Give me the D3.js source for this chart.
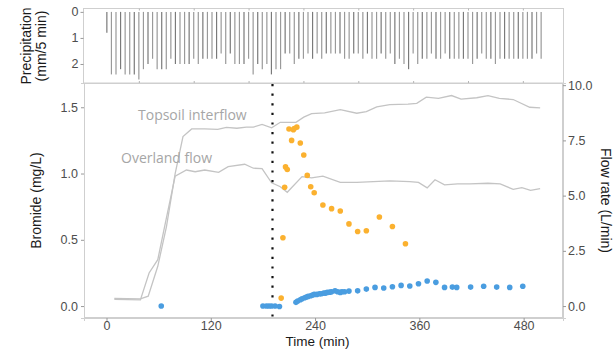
<!DOCTYPE html>
<html>
<head>
<meta charset="utf-8">
<script src="https://cdn.jsdelivr.net/npm/d3@7"></script>
<style>
  body { margin: 0; background: #fff; }
  svg { display: block; }
</style>
</head>
<body>
<div class="chart"></div>
<script>
// rain: one bar per 5 min, starting at 25 min
const rainStart = 25;
const rainStep = 5;
const rainMm = [
  0.8, 2.4, 2.4, 2.2, 2.4, 2.4, 2.4, 2.6, 2.2, 2.0,
  1.8, 2.2, 2.2, 2.2, 1.8, 2.0, 2.0, 2.0, 2.0, 1.8,
  2.0, 1.8, 1.8, 1.8, 1.8, 1.6, 2.0, 1.6, 2.0, 2.0,
  2.0, 1.8, 2.4, 2.0, 2.2, 2.0, 2.4, 2.2, 2.2, 1.6,
  1.6, 2.0, 1.8, 1.8, 1.6, 1.8, 1.6, 1.8, 1.6,
  1.6, 1.6, 1.6, 1.8, 1.8, 1.6, 1.6, 1.8, 1.6, 1.8,
  1.8, 1.6, 1.8, 1.6, 2.0, 1.8, 2.0, 2.2, 1.6, 2.0,
  1.8, 1.8, 1.6, 1.8, 1.8, 1.6, 1.8, 1.8, 1.8, 1.8,
  1.8, 2.0, 1.8, 1.6, 1.8, 1.8, 2.0, 1.8, 1.8, 1.8,
  1.8, 1.8, 1.8, 1.8, 1.8, 1.6, 1.8
];

// flow rates (L/min)
const topsoilTime = [9, 39, 48, 59, 69, 79, 88, 98, 113, 128, 138, 150, 161, 169, 179, 190, 200, 218, 227, 236, 251, 269, 288, 299, 311, 326, 347, 357, 368, 382, 397, 408, 426, 439, 452, 468, 487, 499];
const topsoilFlow = [0.35, 0.33, 0.45, 1.8, 3.6, 6.0, 7.67, 8.02, 8.02, 8.0, 8.09, 8.05, 8.1, 8.1, 8.22, 8.07, 8.32, 8.32, 8.55, 8.71, 8.75, 8.89, 8.73, 8.8, 9.02, 9.12, 9.14, 9.18, 9.46, 9.4, 9.53, 9.37, 9.43, 9.53, 9.4, 9.35, 9.0, 8.97];
const overlandTime = [9, 39, 49, 59, 69, 79, 92, 102, 113, 129, 140, 159, 169, 179, 190, 200, 208, 225, 236, 249, 269, 288, 326, 349, 359, 369, 378, 389, 404, 418, 439, 453, 468, 478, 488, 499];
const overlandFlow = [0.3, 0.28, 1.5, 2.1, 4.0, 5.88, 6.16, 6.08, 6.16, 6.05, 6.31, 6.42, 6.24, 6.22, 5.58, 5.4, 5.15, 5.86, 5.8, 5.88, 5.6, 5.6, 5.67, 5.63, 5.6, 5.35, 5.72, 5.49, 5.53, 5.53, 5.56, 5.53, 5.28, 5.36, 5.24, 5.32];

// bromide (mg/L)
const orangeTime = [201, 203, 205, 206, 208, 210, 213, 215, 216, 219, 223, 227, 231, 235, 239, 249, 259, 269, 279, 289, 299, 314, 329, 344];
const orangeBr = [0.06, 0.515, 0.896, 1.05, 1.03, 1.336, 1.25, 1.33, 1.34, 1.35, 1.23, 1.14, 0.986, 0.9, 0.855, 0.762, 0.735, 0.717, 0.62, 0.563, 0.568, 0.672, 0.6, 0.47];
const blueTime = [63, 180, 184, 187, 190, 194, 199,
  218, 220, 223, 225, 228, 230, 232, 235, 237, 239, 242, 245, 247, 250, 252, 254, 257, 259,
  263, 266, 269, 271, 274, 279, 289, 299, 309, 319, 329, 339, 349, 359, 369, 379, 389, 398, 403, 419, 434, 449, 464, 479];
const blueBr = [0.0, 0.0, 0.0, 0.0, 0.0, 0.0, -0.003,
  0.028, 0.038, 0.048, 0.055, 0.063, 0.068, 0.073, 0.078, 0.083, 0.088, 0.088, 0.093, 0.093, 0.098, 0.098, 0.103, 0.105, 0.108,
  0.115, 0.108, 0.103, 0.108, 0.108, 0.113, 0.115, 0.128, 0.141, 0.136, 0.146, 0.156, 0.151, 0.168, 0.189, 0.179, 0.141, 0.143, 0.141, 0.143, 0.149, 0.143, 0.141, 0.149];

const rainOnset = 191;
const timeTicks = [0, 120, 240, 360, 480];
const brTicks = [0, 0.5, 1.0, 1.5];
const flowTicks = [0, 2.5, 5.0, 7.5, 10.0];
const rainTicks = [0, 1, 2];
const rainMinorTicks = [60, 120, 180, 240, 300, 360, 420, 480];

const W = 615, H = 349;
const svg = d3.select('.chart').append('svg').attr('width', W).attr('height', H);

const frame = '#cfcfcf';
const tickCol = '#4d4d4d';
const font = '"Liberation Sans", Arial, sans-serif';

// ---- top panel: precipitation ----
const rainBox = { l: 83.5, r: 563.5, t: 8.5, b: 83 };
const xRain = d3.scaleLinear().domain([0, 525]).range([84, 564]);
const yRain = d3.scaleLinear().domain([-0.13, 2.73]).range([rainBox.t, rainBox.b]);

svg.append('rect')
  .attr('x', rainBox.l).attr('y', rainBox.t)
  .attr('width', rainBox.r - rainBox.l).attr('height', rainBox.b - rainBox.t)
  .attr('fill', 'none').attr('stroke', frame);

const rainData = rainMm.map((v, i) => ({ t: rainStart + i * rainStep, v: v }));
svg.append('g')
  .selectAll('line')
  .data(rainData)
  .enter()
  .append('line')
  .attr('x1', d => xRain(d.t)).attr('x2', d => xRain(d.t))
  .attr('y1', yRain(0)).attr('y2', d => yRain(d.v))
  .attr('stroke', (d, i) => (i % 3 === 0 ? '#7a7a7a' : '#9a9a9a'))
  .attr('stroke-width', 1.2);

// small ticks on top/bottom borders of the rain panel
svg.append('g')
  .attr('transform', 'translate(0,' + rainBox.b + ')')
  .call(d3.axisTop(xRain).tickValues(rainMinorTicks).tickSize(2).tickFormat(''))
  .call(g => g.select('.domain').remove())
  .call(g => g.selectAll('line').attr('stroke', '#b5b5b5'));
svg.append('g')
  .attr('transform', 'translate(0,' + rainBox.t + ')')
  .call(d3.axisBottom(xRain).tickValues(rainMinorTicks).tickSize(2).tickFormat(''))
  .call(g => g.select('.domain').remove())
  .call(g => g.selectAll('line').attr('stroke', '#b5b5b5'));

const yRainAxis = svg.append('g')
  .attr('transform', 'translate(' + rainBox.l + ',0)')
  .call(d3.axisLeft(yRain).tickValues(rainTicks).tickSize(3).tickPadding(2).tickFormat(d3.format('d')));
yRainAxis.select('.domain').remove();
yRainAxis.selectAll('line').attr('stroke', '#999');
yRainAxis.selectAll('text').attr('fill', tickCol).style('font', '12.5px ' + font);

svg.append('text')
  .attr('transform', 'translate(31,46) rotate(-90)')
  .attr('text-anchor', 'middle')
  .style('font', '14px ' + font)
  .attr('fill', '#1a1a1a')
  .text('Precipitation');
svg.append('text')
  .attr('transform', 'translate(46,46) rotate(-90)')
  .attr('text-anchor', 'middle')
  .style('font', '14px ' + font)
  .attr('fill', '#1a1a1a')
  .text('(mm/5 min)');

// ---- main panel ----
const main = { l: 84, r: 563, t: 83, b: 318 };
const x = d3.scaleLinear().domain([-25.9, 525.3]).range([main.l, main.r]);
const y = d3.scaleLinear().domain([-0.09, 1.683]).range([main.b, main.t]);
const yFlow = d3.scaleLinear().domain([-0.09 * 6, 1.683 * 6]).range([main.b, main.t]);

svg.append('rect')
  .attr('x', main.l + 0.5).attr('y', main.t + 0.5)
  .attr('width', main.r - main.l - 1).attr('height', main.b - main.t - 1)
  .attr('fill', 'none').attr('stroke', frame);

const xAxis = svg.append('g')
  .attr('transform', 'translate(0,' + main.b + ')')
  .call(d3.axisBottom(x).tickValues(timeTicks).tickSize(3).tickPadding(0));
const yAxis = svg.append('g')
  .attr('transform', 'translate(' + main.l + ',0)')
  .call(d3.axisLeft(y).tickValues(brTicks).tickSize(3).tickPadding(3).tickFormat(d3.format('.1f')));
const yFlowAxis = svg.append('g')
  .attr('transform', 'translate(' + main.r + ',0)')
  .call(d3.axisRight(yFlow).tickValues(flowTicks).tickSize(3).tickPadding(2).tickFormat(d3.format('.1f')));

[xAxis, yAxis, yFlowAxis].forEach(g => {
  g.select('.domain').attr('stroke', frame);
  g.selectAll('line').attr('stroke', '#999');
  g.selectAll('text').attr('fill', tickCol).style('font', '12.5px ' + font);
});

// flow lines
const flowLine = d3.line()
  .x(d => x(d[0]))
  .y(d => yFlow(d[1]));

svg.append('path')
  .datum(topsoilTime.map((t, i) => [t, topsoilFlow[i]]))
  .attr('fill', 'none')
  .attr('stroke', '#c4c4c4')
  .attr('stroke-width', 1.3)
  .attr('d', flowLine);
svg.append('path')
  .datum(overlandTime.map((t, i) => [t, overlandFlow[i]]))
  .attr('fill', 'none')
  .attr('stroke', '#c4c4c4')
  .attr('stroke-width', 1.3)
  .attr('d', flowLine);

// rainfall onset marker
svg.append('line')
  .attr('x1', x(rainOnset)).attr('x2', x(rainOnset))
  .attr('y1', main.t + 1).attr('y2', main.b + 6)
  .attr('stroke', '#111')
  .attr('stroke-width', 2.2)
  .attr('stroke-dasharray', '2.2 7.4');

// bromide points
svg.append('g')
  .selectAll('circle')
  .data(blueTime.map((t, i) => ({ t: t, v: blueBr[i] })))
  .enter()
  .append('circle')
  .attr('cx', d => x(d.t))
  .attr('cy', d => y(d.v))
  .attr('r', 2.8)
  .attr('fill', '#4a9de0');

svg.append('g')
  .selectAll('circle')
  .data(orangeTime.map((t, i) => ({ t: t, v: orangeBr[i] })))
  .enter()
  .append('circle')
  .attr('cx', d => x(d.t))
  .attr('cy', d => y(d.v))
  .attr('r', 2.8)
  .attr('fill', '#fbb12f');

// line labels
svg.append('text')
  .attr('x', 138).attr('y', 120)
  .style('font', '14px "Open Sans", sans-serif')
  .attr('fill', '#a6a6a6')
  .text('Topsoil interflow');
svg.append('text')
  .attr('x', 121).attr('y', 163)
  .style('font', '14px "Open Sans", sans-serif')
  .attr('fill', '#a6a6a6')
  .text('Overland flow');

// axis titles
svg.append('text')
  .attr('x', (main.l + main.r) / 2 - 6).attr('y', 346)
  .attr('text-anchor', 'middle')
  .style('font', '13.5px ' + font)
  .attr('fill', '#1a1a1a')
  .text('Time (min)');
svg.append('text')
  .attr('transform', 'translate(41,' + (main.t + main.b) / 2 + ') rotate(-90)')
  .attr('text-anchor', 'middle')
  .style('font', '14px ' + font)
  .attr('fill', '#1a1a1a')
  .text('Bromide (mg/L)');
svg.append('text')
  .attr('transform', 'translate(601,' + (main.t + main.b) / 2 + ') rotate(90)')
  .attr('text-anchor', 'middle')
  .style('font', '14px ' + font)
  .attr('fill', '#1a1a1a')
  .text('Flow rate (L/min)');
</script>
</body>
</html>
